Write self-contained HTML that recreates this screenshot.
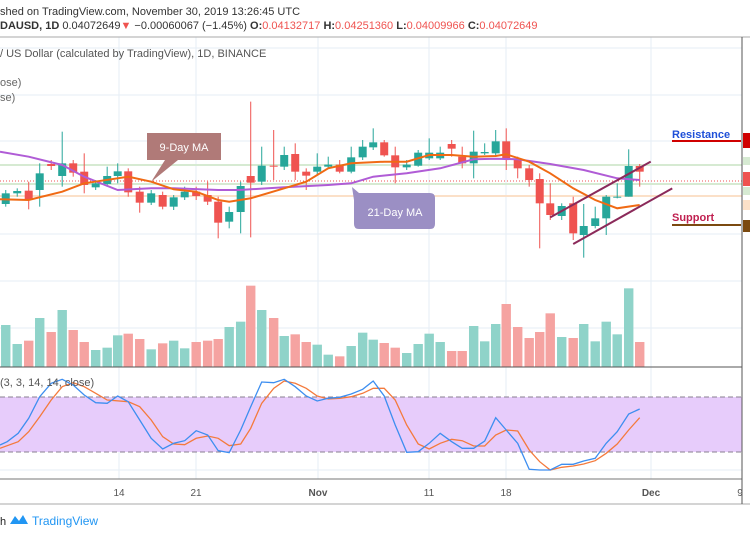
<!DOCTYPE html>
<html><head><meta charset="utf-8"><style>
body{margin:0;background:#fff;width:750px;height:536px;overflow:hidden;font-family:"Liberation Sans",sans-serif}
svg{position:absolute;left:0;top:0}
</style></head><body>
<svg id="s" width="750" height="536" xmlns="http://www.w3.org/2000/svg">
<g id="grid" stroke="#e6eef5" stroke-width="1">
<line x1="119" y1="37" x2="119" y2="479"/><line x1="196" y1="37" x2="196" y2="479"/><line x1="318" y1="37" x2="318" y2="479"/><line x1="429" y1="37" x2="429" y2="479"/><line x1="506" y1="37" x2="506" y2="479"/><line x1="651" y1="37" x2="651" y2="479"/>
<line x1="0" y1="48" x2="742" y2="48"/><line x1="0" y1="95" x2="742" y2="95"/><line x1="0" y1="141" x2="742" y2="141"/><line x1="0" y1="234" x2="742" y2="234"/><line x1="0" y1="281" x2="742" y2="281"/><line x1="0" y1="328" x2="742" y2="328"/><line x1="0" y1="433" x2="742" y2="433"/><line x1="0" y1="470" x2="742" y2="470"/>
</g>
<line x1="0" y1="165" x2="742" y2="165" stroke="#d6ead2" stroke-width="2"/>
<line x1="0" y1="184" x2="742" y2="184" stroke="#d6ead2" stroke-width="2"/>
<line x1="0" y1="196" x2="742" y2="196" stroke="#fbe0c8" stroke-width="2"/>
<line x1="0" y1="181" x2="742" y2="181" stroke="#ef5350" stroke-width="1" stroke-dasharray="1,2"/>
<rect x="0" y="397" width="742" height="55" fill="#e7ccfb"/>
<line x1="0" y1="397" x2="742" y2="397" stroke="#8a7f90" stroke-dasharray="5,3"/>
<line x1="0" y1="452" x2="742" y2="452" stroke="#8a7f90" stroke-dasharray="5,3"/>
<g id="cd"></g>
<g id="ln" fill="none"></g>
<line x1="0" y1="37" x2="750" y2="37" stroke="#aaa"/>
<line x1="0" y1="367" x2="742" y2="367" stroke="#555"/>
<line x1="0" y1="479" x2="742" y2="479" stroke="#777"/>
<line x1="0" y1="504" x2="750" y2="504" stroke="#aaa"/>
<line x1="742" y1="37" x2="742" y2="504" stroke="#555"/>
<rect x="743" y="133" width="7" height="15" fill="#d00000"/>
<rect x="743" y="157" width="7" height="8" fill="#d6ead2"/>
<rect x="743" y="172" width="7" height="14" fill="#ef5350"/>
<rect x="743" y="187" width="7" height="8" fill="#d6ead2"/>
<rect x="743" y="200" width="7" height="10" fill="#fbe0c8"/>
<rect x="743" y="220" width="7" height="12" fill="#7b4a10"/>
<line x1="672" y1="141" x2="741" y2="141" stroke="#d00000" stroke-width="2"/>
<line x1="672" y1="225" x2="741" y2="225" stroke="#7b4a10" stroke-width="2"/>
<text x="672" y="138" font-size="11" font-weight="bold" fill="#1e4fd8">Resistance</text>
<text x="672" y="221" font-size="11" font-weight="bold" fill="#c02050">Support</text>
<path d="M147,133 H221 V160 H178 L151,182 L165,160 H147 Z" fill="#b07a78"/>
<text x="184" y="151" font-size="11" fill="#fff" text-anchor="middle">9-Day MA</text>
<path d="M359,193 H430 Q435,193 435,198 V224 Q435,229 430,229 H359 Q354,229 354,224 V200 L352,187 Z" fill="#9b8fc4"/>
<text x="395" y="216" font-size="11" fill="#fff" text-anchor="middle">21-Day MA</text>
<g font-size="11" fill="#333">
<text x="0" y="15">shed on TradingView.com, November 30, 2019 13:26:45 UTC</text>
<text x="0" y="29"><tspan font-weight="bold">DAUSD, 1D</tspan> 0.04072649<tspan fill="#ef5350">▼</tspan> −0.00060067 (−1.45%) <tspan font-weight="bold">O:</tspan><tspan fill="#ef5350">0.04132717</tspan> <tspan font-weight="bold">H:</tspan><tspan fill="#ef5350">0.04251360</tspan> <tspan font-weight="bold">L:</tspan><tspan fill="#ef5350">0.04009966</tspan> <tspan font-weight="bold">C:</tspan><tspan fill="#ef5350">0.04072649</tspan></text>
<text x="0" y="57" fill="#555">/ US Dollar (calculated by TradingView), 1D, BINANCE</text>
<text x="0" y="86" fill="#666">ose)</text>
<text x="0" y="101" fill="#666">se)</text>
<text x="0" y="386" fill="#555">(3, 3, 14, 14, close)</text>
<g fill="#555" font-size="10" text-anchor="middle">
<text x="119" y="496">14</text><text x="196" y="496">21</text><text x="318" y="496" font-weight="bold">Nov</text><text x="429" y="496">11</text><text x="506" y="496">18</text><text x="651" y="496" font-weight="bold">Dec</text><text x="740" y="496">9</text></g>
<text x="0" y="525" fill="#222">h</text>
<path d="M10,524 L15,516 L19,521 L23,515 L28,524 Z" fill="#2196f3"/>
<text x="32" y="525" fill="#2196f3" font-size="12">TradingView</text>
</g>
</svg>
<script>
var C=[[12,580,612,570,620,1],[36,573,580,565,590,1],[60,572,600,545,628,0],[83,520,570,490,620,1],[107,492,498,480,510,0],[130,490,528,395,560,1],[153,490,518,480,530,0],[176,515,555,460,580,0],[200,550,562,540,570,1],[224,528,552,500,560,1],[246,514,528,490,550,1],[268,514,577,505,590,0],[292,575,608,560,638,0],[316,580,608,570,615,1],[340,585,620,575,628,0],[363,592,620,585,630,1],[386,575,592,560,600,1],[410,575,588,560,600,0],[434,585,605,545,615,0],[456,605,668,590,715,0],[479,636,665,620,685,1],[503,558,636,545,700,1],[524,528,548,305,712,0],[547,497,545,440,555,1],[572,497,500,390,540,0],[594,465,500,440,510,1],[617,462,515,430,540,0],[640,515,527,505,570,0],[663,500,515,460,525,1],[686,494,500,470,505,1],[710,494,515,480,520,0],[734,472,515,440,520,1],[758,440,472,420,480,1],[780,427,442,385,450,1],[803,427,466,420,470,0],[826,466,502,440,550,0],[850,494,502,480,510,1],[874,458,497,450,500,1],[897,458,475,415,480,1],[920,458,475,440,480,1],[944,432,446,420,470,0],[966,470,490,440,505,0],[990,455,490,392,535,1],[1013,456,460,430,465,1],[1036,424,460,390,470,1],[1058,424,478,385,510,0],[1082,478,505,470,535,0],[1106,505,540,495,560,0],[1128,537,610,520,745,0],[1150,610,645,550,660,0],[1174,618,648,610,660,1],[1198,610,700,590,720,0],[1220,678,705,612,773,1],[1244,655,678,620,685,1],[1267,590,655,585,705,1],[1290,590,592,550,595,1],[1314,498,590,448,590,1],[1337,498,515,492,560,0]];
var V=[165,222,212,144,186,120,180,216,240,233,196,191,207,238,220,212,235,216,212,207,171,155,47,120,144,198,193,216,224,254,259,228,188,209,219,233,249,222,191,216,243,243,168,214,162,102,171,204,186,130,201,204,162,214,155,193,55,216];
var G="#26a69a",R="#ef5350",sx=1/2.09,h="";
C.forEach(function(c,i){var x=c[0]*sx,col=c[5]?G:R;
h+='<line x1="'+x+'" x2="'+x+'" y1="'+c[3]/3+'" y2="'+c[4]/3+'" stroke="'+col+'"/>';
h+='<rect x="'+(x-4)+'" y="'+c[1]/3+'" width="8" height="'+Math.max(1,(c[2]-c[1])/3)+'" fill="'+col+'"/>';
var t=270+V[i]/3;h+='<rect x="'+(x-4.7)+'" y="'+t+'" width="9.4" height="'+(367-t)+'" fill="'+(c[5]?"#8fd3c9":"#f5a3a1")+'"/>';});
document.getElementById("cd").innerHTML=h;
function P(a,oy){return a.map(function(p){return (p[0]*sx).toFixed(1)+","+(oy+p[1]/3).toFixed(1)}).join(" ")}
var ma9=[[0,598],[60,600],[130,575],[176,550],[268,530],[316,545],[363,568],[410,575],[456,600],[479,605],[524,595],[594,565],[640,545],[686,505],[734,490],[803,485],[850,485],[897,465],[944,465],[990,470],[1036,468],[1058,463],[1106,485],[1150,520],[1198,565],[1244,600],[1290,625],[1337,615]];
var ma21=[[0,455],[60,470],[130,495],[176,530],[246,570],[316,565],[363,565],[456,570],[500,570],[594,562],[686,555],[734,550],[780,530],[850,520],[920,505],[990,478],[1036,476],[1082,478],[1150,492],[1220,510],[1290,535],[1337,540]];
var kb=[[0,525],[15,515],[38,490],[60,445],[83,380],[107,340],[130,328],[153,345],[176,375],[200,398],[224,400],[246,378],[268,395],[292,450],[316,505],[340,537],[363,520],[386,512],[410,482],[434,495],[456,542],[479,548],[503,480],[524,410],[547,336],[572,338],[594,328],[617,350],[640,378],[663,393],[686,385],[710,382],[734,372],[758,358],[780,333],[803,378],[826,465],[850,547],[874,545],[897,520],[920,490],[944,515],[966,535],[990,535],[1013,513],[1036,443],[1058,480],[1082,520],[1106,598],[1128,600],[1150,600],[1174,583],[1198,583],[1220,573],[1244,565],[1267,520],[1290,485],[1314,432],[1337,417]];
var kd=[[0,535],[38,515],[60,485],[83,440],[107,390],[130,350],[153,338],[176,350],[200,370],[224,390],[268,395],[292,410],[316,450],[340,500],[363,522],[386,524],[410,505],[434,498],[456,505],[479,527],[503,522],[524,475],[547,400],[572,355],[594,333],[617,340],[640,355],[663,378],[686,387],[710,385],[734,380],[758,370],[780,355],[803,355],[826,390],[850,465],[874,522],[897,537],[920,520],[944,508],[966,512],[990,528],[1013,528],[1036,495],[1058,480],[1082,483],[1106,540],[1128,575],[1150,600],[1174,592],[1198,588],[1220,582],[1244,572],[1267,550],[1290,522],[1314,480],[1337,443]];
var l='<polyline points="'+P(ma21,0)+'" stroke="#b05cd6" stroke-width="2"/>';
l+='<polyline points="'+P(ma9,0)+'" stroke="#f06a14" stroke-width="2"/>';
l+='<polyline points="'+P(kd,270)+'" stroke="#f47a3c" stroke-width="1.3"/>';
l+='<polyline points="'+P(kb,270)+'" stroke="#3d8ef0" stroke-width="1.3"/>';
l+='<line x1="'+1150*sx+'" y1="'+652/3+'" x2="'+1360*sx+'" y2="'+485/3+'" stroke="#8b2a5a" stroke-width="2"/>';
l+='<line x1="'+1198*sx+'" y1="'+732/3+'" x2="'+1405*sx+'" y2="'+565/3+'" stroke="#8b2a5a" stroke-width="2"/>';
document.getElementById("ln").innerHTML=l;
</script>
</body></html>
